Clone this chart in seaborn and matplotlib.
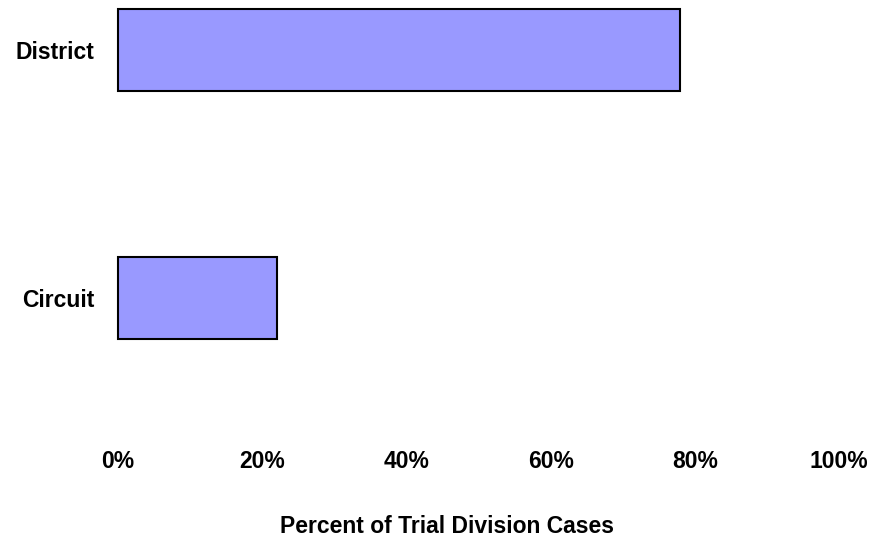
import pandas as pd
import seaborn as sns
import matplotlib.pyplot as plt
from matplotlib.ticker import FuncFormatter

# values
courts = ["District", "Circuit"]
percent_cases = [78, 22]
x_ticks = [0, 20, 40, 60, 80, 100]

df = pd.DataFrame({"court": courts, "pct": percent_cases})

sns.set_theme(style="white")
plt.rcParams['font.family'] = ['Liberation Sans', 'DejaVu Sans']
plt.rcParams['font.weight'] = 'bold'
plt.rcParams['text.color'] = 'black'
plt.rcParams['xtick.color'] = 'black'
plt.rcParams['ytick.color'] = 'black'
plt.rcParams['axes.labelcolor'] = 'black'

fig = plt.figure(figsize=(8.75, 5.42), dpi=100)
ax = fig.add_axes([118 / 875, 1 - 440 / 542, (839 - 118) / 875, 440 / 542])

sns.barplot(data=df, x="pct", y="court", orient="h", color="#9999FF", saturation=1,
            width=0.33, edgecolor="black", linewidth=1.5, ax=ax)

# keep the left bar edge visible at x=0
for p in ax.patches:
    p.set_clip_on(False)

ax.set_xlim(0, 100)
ax.set_ylim(1.573, -0.203)
ax.set_xticks(x_ticks)
ax.xaxis.set_major_formatter(FuncFormatter(lambda v, p: '{:.0f}%'.format(v)))
ax.tick_params(axis='x', length=0, pad=7, labelsize=16.5, labelcolor='black')
ax.tick_params(axis='y', length=0, pad=17, labelsize=16.5, labelcolor='black')
for lbl in ax.get_xticklabels() + ax.get_yticklabels():
    lbl.set_fontweight('bold')

ax.set_ylabel("")
ax.set_xlabel("Percent of Trial Division Cases", fontsize=16.5, fontweight='bold', color='black')
ax.xaxis.set_label_coords((447 - 118) / 721, -0.17)

sns.despine(ax=ax, left=True, bottom=True)

fig.savefig("out.png", dpi=100, facecolor="white")
